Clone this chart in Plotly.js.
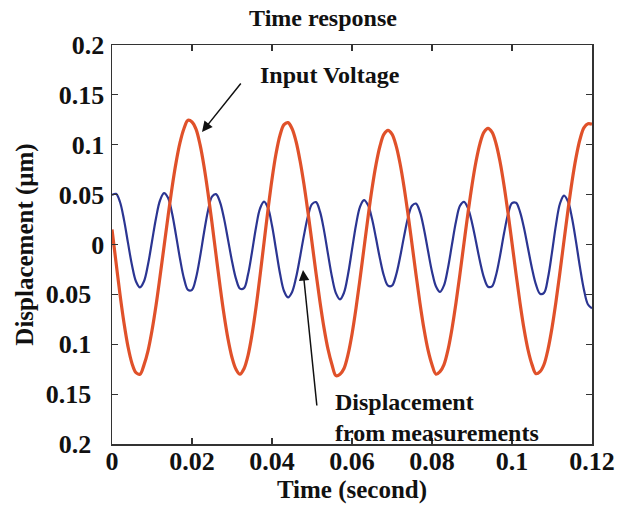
<!DOCTYPE html>
<html>
<head>
<meta charset="utf-8">
<script src="https://cdn.plot.ly/plotly-3.0.1.min.js"></script>
<style>html,body{margin:0;padding:0;background:#fff;}#chart{width:625px;height:512px;}</style>
</head>
<body>
<div id="chart"></div>
<script>
// Time samples (second)
var timeSec = [0,0.001,0.002,0.003,0.004,0.005,0.006,0.007,0.008,0.009,
0.010,0.011,0.012,0.013,0.014,0.015,0.016,0.017,0.018,0.019,
0.020,0.021,0.022,0.023,0.024,0.025,0.026,0.027,0.028,0.029,
0.030,0.031,0.032,0.033,0.034,0.035,0.036,0.037,0.038,0.039,
0.040,0.041,0.042,0.043,0.044,0.045,0.046,0.047,0.048,0.049,
0.050,0.051,0.052,0.053,0.054,0.055,0.056,0.057,0.058,0.059,
0.060,0.061,0.062,0.063,0.064,0.065,0.066,0.067,0.068,0.069,
0.070,0.071,0.072,0.073,0.074,0.075,0.076,0.077,0.078,0.079,
0.080,0.081,0.082,0.083,0.084,0.085,0.086,0.087,0.088,0.089,
0.090,0.091,0.092,0.093,0.094,0.095,0.096,0.097,0.098,0.099,
0.100,0.101,0.102,0.103,0.104,0.105,0.106,0.107,0.108,0.109,
0.110,0.111,0.112,0.113,0.114,0.115,0.116,0.117,0.118,0.119,
0.120];

// Input voltage (orange)
var inputVoltage = [0.0150,-0.0177,-0.0500,-0.0787,-0.1024,-0.1192,-0.1285,-0.1300,-0.1207,-0.1066,
-0.0862,-0.0612,-0.0324,-0.0022,0.0279,0.0567,0.0818,0.1021,0.1163,0.1245,
0.1228,0.1156,0.1003,0.0785,0.0517,0.0215,-0.0102,-0.0414,-0.0702,-0.0947,
-0.1133,-0.1251,-0.1300,-0.1245,-0.1113,-0.0903,-0.0632,-0.0317,0.0018,0.0350,
0.0654,0.0909,0.1095,0.1202,0.1222,0.1163,0.1035,0.0842,0.0601,0.0320,
0.0020,-0.0286,-0.0576,-0.0836,-0.1049,-0.1205,-0.1315,-0.1300,-0.1243,-0.1104,
-0.0899,-0.0640,-0.0346,-0.0036,0.0272,0.0558,0.0801,0.0988,0.1106,0.1145,
0.1107,0.0994,0.0815,0.0580,0.0304,0.0004,-0.0300,-0.0591,-0.0848,-0.1057,
-0.1205,-0.1300,-0.1275,-0.1204,-0.1056,-0.0844,-0.0585,-0.0292,0.0015,0.0317,
0.0595,0.0832,0.1013,0.1127,0.1165,0.1126,0.1013,0.0832,0.0595,0.0317,
0.0015,-0.0292,-0.0585,-0.0845,-0.1055,-0.1204,-0.1295,-0.1275,-0.1203,-0.1051,
-0.0836,-0.0572,-0.0274,0.0039,0.0346,0.0630,0.0871,0.1055,0.1171,0.1210,
0.1205];

// Displacement from measurements (blue)
var displacement = [0.0495,0.0508,0.0426,0.0247,0.0016,-0.0208,-0.0371,-0.0430,-0.0369,-0.0201,
0.0030,0.0264,0.0441,0.0515,0.0468,0.0316,0.0094,-0.0143,-0.0342,-0.0455,
-0.0454,-0.0335,-0.0127,0.0118,0.0339,0.0480,0.0505,0.0426,0.0262,0.0049,
-0.0167,-0.0344,-0.0442,-0.0437,-0.0302,-0.0076,0.0171,0.0360,0.0430,0.0366,
0.0190,-0.0050,-0.0290,-0.0466,-0.0530,-0.0478,-0.0334,-0.0128,0.0094,0.0285,
0.0405,0.0425,0.0330,0.0142,-0.0097,-0.0326,-0.0490,-0.0550,-0.0483,-0.0301,
-0.0052,0.0196,0.0378,0.0445,0.0395,0.0257,0.0062,-0.0144,-0.0316,-0.0412,
-0.0412,-0.0309,-0.0131,0.0079,0.0268,0.0389,0.0410,0.0325,0.0153,-0.0063,
-0.0272,-0.0421,-0.0475,-0.0410,-0.0234,0.0002,0.0231,0.0388,0.0428,0.0363,
0.0219,0.0028,-0.0170,-0.0332,-0.0423,-0.0420,-0.0308,-0.0115,0.0110,0.0303,
0.0415,0.0418,0.0328,0.0165,-0.0038,-0.0240,-0.0403,-0.0493,-0.0485,-0.0333,
-0.0079,0.0199,0.0411,0.0490,0.0431,0.0266,0.0029,-0.0230,-0.0456,-0.0602,
-0.0640];

// Tick labels as printed (minus signs absent in the original)
var xTickVals = [0,0.02,0.04,0.06,0.08,0.1,0.12];
var xTickText = ["0","0.02","0.04","0.06","0.08","0.1","0.12"];
var yTickVals = [-0.2,-0.15,-0.1,-0.05,0,0.05,0.1,0.15,0.2];
var yTickText = ["0.2\u2002","0.15\u2002","0.1\u2002","0.05\u2002","0","0.05","0.1","0.15","0.2"];

var FONT = "Liberation Serif, Times New Roman, serif";
var AX = "#333333";

var traces = [
  {x: timeSec, y: displacement, type: "scatter", mode: "lines", name: "Displacement from measurements",
   line: {color: "#2B3592", width: 2.2, shape: "spline", smoothing: 1}, hoverinfo: "skip"},
  {x: timeSec, y: inputVoltage, type: "scatter", mode: "lines", name: "Input Voltage",
   line: {color: "#E0512A", width: 3.2, shape: "spline", smoothing: 1}, hoverinfo: "skip"}
];

var axisCommon = {
  showline: true, linecolor: AX, linewidth: 1.5, mirror: "ticks",
  ticks: "inside", ticklen: 6, tickwidth: 1.2, tickcolor: AX,
  showgrid: false, zeroline: false,
  tickfont: {family: FONT, size: 26, color: "#111", weight: "bold"}
};

var layout = {
  width: 625, height: 512,
  margin: {l: 112, r: 33, t: 45, b: 68},
  paper_bgcolor: "#fff", plot_bgcolor: "#fff",
  showlegend: false,
  title: {text: "Time response", font: {family: FONT, size: 24, color: "#111", weight: "bold"},
          x: 323/625, xref: "container", xanchor: "center", y: 1 - 18/512, yref: "container", yanchor: "middle"},
  xaxis: Object.assign({}, axisCommon, {
    range: [0, 0.12], tickmode: "array", tickvals: xTickVals, ticktext: xTickText,
    ticklabelstandoff: -7,
    title: {text: "Time (second)", font: {family: FONT, size: 25, color: "#111", weight: "bold"}, standoff: 6}
  }),
  yaxis: Object.assign({}, axisCommon, {
    range: [-0.2, 0.2], tickmode: "array", tickvals: yTickVals, ticktext: yTickText,
    ticklabelstandoff: 1,
    title: {text: "Displacement (\u03bcm)", font: {family: FONT, size: 25, color: "#111", weight: "bold"}, standoff: 5}
  }),
  annotations: [
    {x: 0.0365, y: 0.1699, xref: "x", yref: "y", text: "Input Voltage", showarrow: false,
     xanchor: "left", yanchor: "middle", font: {family: FONT, size: 24, color: "#111", weight: "bold"}},
    {x: 0.0225, y: 0.1128, xref: "x", yref: "y", text: "", showarrow: true, ax: 40, ay: -50,
     arrowhead: 2, arrowsize: 1.4, arrowwidth: 1.5, arrowcolor: "#111"},
    {x: 0.05525, y: -0.1734, xref: "x", yref: "y", text: "Displacement<br>from measurements", showarrow: false,
     xanchor: "left", yanchor: "middle", align: "left", font: {family: FONT, size: 24, color: "#111", weight: "bold"}},
    {x: 0.04775, y: -0.0256, xref: "x", yref: "y", text: "", showarrow: true, ax: 14, ay: 137,
     arrowhead: 2, arrowsize: 1.4, arrowwidth: 1.5, arrowcolor: "#111"}
  ]
};

Plotly.newPlot("chart", traces, layout, {displayModeBar: false, staticPlot: true});
</script>
</body>
</html>
